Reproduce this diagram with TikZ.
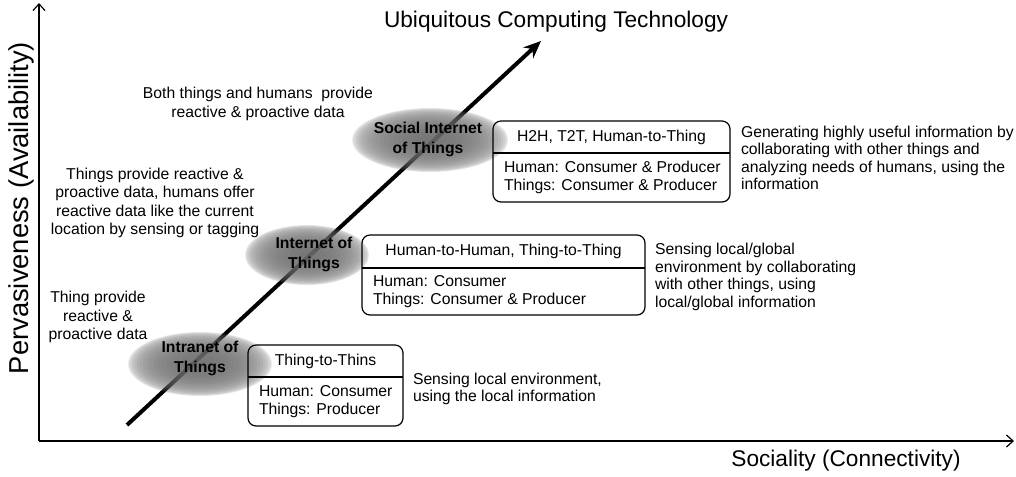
\documentclass[tikz,border=0pt]{standalone}
\usepackage{fontspec}
\setmainfont{Liberation Sans}
\usetikzlibrary{arrows.meta,calc}
\begin{document}
\begin{tikzpicture}[x=0.75pt,y=-0.75pt,
  every node/.style={inner sep=0pt, outer sep=0pt},
  box/.style={draw, rounded corners=6pt, line width=0.9pt},
  divider/.style={line width=0.9pt},
  boxtitle/.style={font=\fontsize{11.8pt}{13.5pt}\selectfont},
  boxbody/.style={font=\fontsize{11.8pt}{13.5pt}\selectfont, align=left, anchor=west},
  desc/.style={font=\fontsize{11.8pt}{13.1pt}\selectfont, align=left, anchor=west},
  note/.style={font=\fontsize{11.8pt}{13.8pt}\selectfont, align=center},
  cloudtxt/.style={font=\fontsize{11.8pt}{15pt}\selectfont\bfseries, align=center},
  axis/.style={line width=0.9pt, -{Straight Barb[length=5pt,width=9pt]}},
  big/.style={font=\fontsize{17pt}{20pt}\selectfont},
  cloudlayer/.style={fill=black!58, opacity=0.12}]

\useasboundingbox (0,0) rectangle (1016,476);

% axes
\coordinate (o) at (39,441);
\coordinate (ytop) at (39,3);
\coordinate (xend) at (1014,441);
\draw[axis] (o) -- (ytop);
\draw[axis] (o) -- (xend);

% axis labels and title
\node[big] (title) at (556,22) {Ubiquitous Computing Technology};
\node[big] (xl) at (846,461) {Sociality (Connectivity)};
\node[font=\fontsize{20.5pt}{24pt}\selectfont, rotate=90] (yl) at (21,208) {Pervasiveness (Availability)};

% diagonal arrow
\coordinate (ds) at (127,425);
\coordinate (de) at (541,41);
\draw[line width=3pt, -{Stealth[length=13pt, width=11pt]}] (ds) -- (de);

% soft clouds
\foreach \cx/\cy/\rx/\ry in {200/364/72/32, 307/255/62/30, 430/140/78/32} {
  \foreach \k in {0,...,19} {
    \fill[cloudlayer] (\cx,\cy) ellipse [x radius={\rx*(1-(\k/20)^1.5)}, y radius={\ry*(1-(\k/20)^1.5)}];
  }
}

% cloud labels
\node[cloudtxt] (c1) at (200,358) {Intranet of\\Things};
\node[cloudtxt] (c2) at (314,254) {Internet of\\Things};
\node[cloudtxt] (c3) at (428,139) {Social Internet\\of Things};

% box 1
\node[box, minimum width=116.25pt, minimum height=60.75pt] (b1) at (325.5,385.5) {};
\draw[divider] ($(b1.north west)+(0,32)$) -- ($(b1.north east)+(0,32)$);
\node[boxtitle] (b1t) at ($(b1.north)+(0,16)$) {Thing-to-Thins};
\node[boxbody] (b1b) at ($(b1.south west)+(11,-24.5)$) {Human: Consumer\\Things: Producer};

% box 2
\node[box, minimum width=212.25pt, minimum height=60pt] (b2) at (503.5,275) {};
\draw[divider] ($(b2.north west)+(0,33)$) -- ($(b2.north east)+(0,33)$);
\node[boxtitle] (b2t) at ($(b2.north)+(0,16.5)$) {Human-to-Human, Thing-to-Thing};
\node[boxbody] (b2b) at ($(b2.south west)+(11,-23.5)$) {Human: Consumer\\Things: Consumer \& Producer};

% box 3
\node[box, minimum width=177.75pt, minimum height=60.75pt] (b3) at (611.5,161.5) {};
\draw[divider] ($(b3.north west)+(0,32)$) -- ($(b3.north east)+(0,32)$);
\node[boxtitle] (b3t) at ($(b3.north)+(0,16)$) {H2H, T2T, Human-to-Thing};
\node[boxbody] (b3b) at ($(b3.south west)+(11,-24.5)$) {Human: Consumer \& Producer\\Things: Consumer \& Producer};

% descriptions
\node[desc] (d1) at (413,389) {Sensing local environment,\\using the local information};
\node[desc] (d2) at (655,277) {Sensing local/global\\environment by collaborating\\with other things, using\\local/global information};
\node[desc] (d3) at (741,158) {Generating highly useful information by\\collaborating with other things and\\analyzing needs of humans, using the\\information};

% notes
\node[note] (n3) at (258,104) {Both things and humans\ \ provide\\reactive \& proactive data};
\node[note] (n2) at (155,203) {Things provide reactive \&\\proactive data, humans offer\\reactive data like the current\\location by sensing or tagging};
\node[note] (n1) at (98,317) {Thing provide\\reactive \&\\proactive data};

\end{tikzpicture}
\end{document}
